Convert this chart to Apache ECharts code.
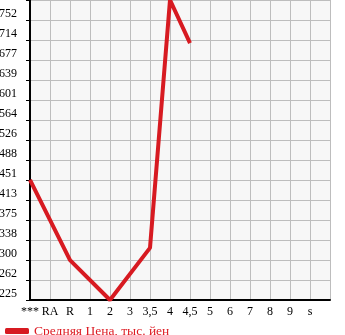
<!DOCTYPE html>
<html><head><meta charset="utf-8">
<script src="https://cdn.jsdelivr.net/npm/echarts@6/dist/echarts.min.js"></script>
<style>html,body{margin:0;padding:0;background:#fff}#c{width:345px;height:335px}</style>
</head><body><div id="c"></div>
<script>
const categories = ['***','RA','R','1','2','3','3,5','4','4,5','5','6','7','8','9','s',''];
const prices = [451, null, 300, null, 225, null, 323, 789, 708, null, null, null, null, null, null, null];
const yTickLabels = ['225','262','300','338','375','413','451','488','526','564','601','639','677','714','752',''];
const seriesName = 'Средняя Цена, тыс. йен';
const yMin = 225, yStep = 37.6, yCount = 15;

const chart = echarts.init(document.getElementById('c'));
const font = '"Liberation Serif", "DejaVu Serif", serif';
chart.setOption({
  animation: false,
  grid: {left: 30, top: 0, width: 300, height: 300, show: true, backgroundColor: '#f7f7f7', borderWidth: 0,
         containLabel: false, outerBoundsMode: 'none'},
  legend: {
    left: 0, top: 319, itemWidth: 24, itemHeight: 6, itemGap: 6,
    icon: 'roundRect',
    textStyle: {color: '#dd1c24', fontFamily: font, fontSize: 13.5},
    data: [seriesName]
  },
  xAxis: {
    type: 'category', data: categories, boundaryGap: false,
    axisLine: {lineStyle: {color: '#000', width: 2}},
    axisTick: {show: false},
    axisLabel: {interval: 0, color: '#000', fontFamily: font, fontSize: 12, margin: 6},
    splitLine: {show: true, interval: 0, lineStyle: {color: '#bdbdbd', width: 1}}
  },
  yAxis: {
    type: 'value', min: yMin, max: yMin + yStep * yCount, interval: yStep,
    axisLine: {show: true, lineStyle: {color: '#000', width: 2}},
    axisTick: {show: true, length: 4, lineStyle: {color: '#000', width: 1}},
    axisLabel: {
      color: '#000', fontFamily: font, fontSize: 12, margin: 13, verticalAlign: 'bottom',
      formatter: v => yTickLabels[Math.round((v - yMin) / yStep)] || ''
    },
    splitLine: {show: true, lineStyle: {color: '#bdbdbd', width: 1}}
  },
  series: [{
    name: seriesName, type: 'line', data: prices, connectNulls: true,
    symbol: 'none', color: '#d71a21',
    lineStyle: {width: 4, color: '#d71a21'}
  }]
});
</script></body></html>
